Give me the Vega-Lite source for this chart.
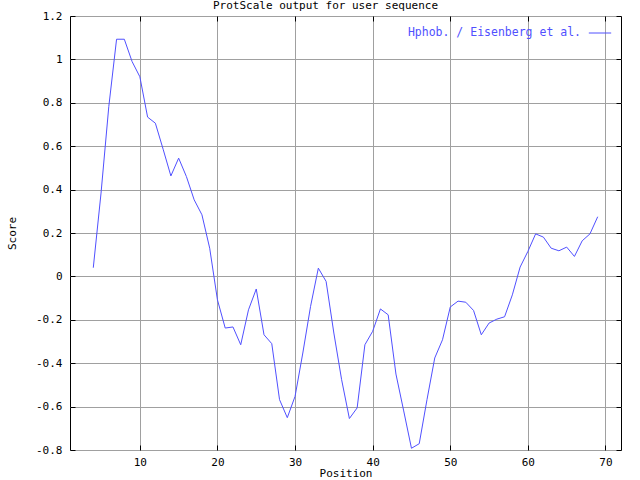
{
  "$schema": "https://vega.github.io/schema/vega-lite/v6.json",
  "width": 551,
  "height": 434,
  "autosize": {"type": "none"},
  "padding": {"left": 70, "top": 16, "right": 19, "bottom": 30},
  "background": "white",
  "title": {"text": "ProtScale output for user sequence", "fontSize": 11, "font": "DejaVu Sans Mono", "fontWeight": "normal", "anchor": "middle", "offset": 2, "dy": 3, "dx": -20, "color": "black"},
  "config": {
    "view": {"stroke": "black", "strokeWidth": 1},
    "axis": {"labelFont": "DejaVu Sans Mono", "labelFontSize": 11, "labelColor": "black", "titleFont": "DejaVu Sans Mono", "titleFontSize": 11, "titleFontWeight": "normal", "titleColor": "black", "gridColor": "#a0a0a0", "gridWidth": 1, "gridOpacity": 1, "domain": false, "tickColor": "black", "tickSize": -5, "tickWidth": 1}
  },
  "data": {"values": [
    {"Position": 4, "Score": 0.04, "series": "Hphob. / Eisenberg et al."},
    {"Position": 5, "Score": 0.384, "series": "Hphob. / Eisenberg et al."},
    {"Position": 6, "Score": 0.783, "series": "Hphob. / Eisenberg et al."},
    {"Position": 7, "Score": 1.093, "series": "Hphob. / Eisenberg et al."},
    {"Position": 8, "Score": 1.093, "series": "Hphob. / Eisenberg et al."},
    {"Position": 9, "Score": 0.99, "series": "Hphob. / Eisenberg et al."},
    {"Position": 10, "Score": 0.92, "series": "Hphob. / Eisenberg et al."},
    {"Position": 11, "Score": 0.734, "series": "Hphob. / Eisenberg et al."},
    {"Position": 12, "Score": 0.706, "series": "Hphob. / Eisenberg et al."},
    {"Position": 13, "Score": 0.586, "series": "Hphob. / Eisenberg et al."},
    {"Position": 14, "Score": 0.463, "series": "Hphob. / Eisenberg et al."},
    {"Position": 15, "Score": 0.545, "series": "Hphob. / Eisenberg et al."},
    {"Position": 16, "Score": 0.46, "series": "Hphob. / Eisenberg et al."},
    {"Position": 17, "Score": 0.353, "series": "Hphob. / Eisenberg et al."},
    {"Position": 18, "Score": 0.284, "series": "Hphob. / Eisenberg et al."},
    {"Position": 19, "Score": 0.13, "series": "Hphob. / Eisenberg et al."},
    {"Position": 20, "Score": -0.108, "series": "Hphob. / Eisenberg et al."},
    {"Position": 21, "Score": -0.238, "series": "Hphob. / Eisenberg et al."},
    {"Position": 22, "Score": -0.233, "series": "Hphob. / Eisenberg et al."},
    {"Position": 23, "Score": -0.315, "series": "Hphob. / Eisenberg et al."},
    {"Position": 24, "Score": -0.154, "series": "Hphob. / Eisenberg et al."},
    {"Position": 25, "Score": -0.058, "series": "Hphob. / Eisenberg et al."},
    {"Position": 26, "Score": -0.269, "series": "Hphob. / Eisenberg et al."},
    {"Position": 27, "Score": -0.31, "series": "Hphob. / Eisenberg et al."},
    {"Position": 28, "Score": -0.568, "series": "Hphob. / Eisenberg et al."},
    {"Position": 29, "Score": -0.651, "series": "Hphob. / Eisenberg et al."},
    {"Position": 30, "Score": -0.553, "series": "Hphob. / Eisenberg et al."},
    {"Position": 31, "Score": -0.353, "series": "Hphob. / Eisenberg et al."},
    {"Position": 32, "Score": -0.138, "series": "Hphob. / Eisenberg et al."},
    {"Position": 33, "Score": 0.038, "series": "Hphob. / Eisenberg et al."},
    {"Position": 34, "Score": -0.023, "series": "Hphob. / Eisenberg et al."},
    {"Position": 35, "Score": -0.261, "series": "Hphob. / Eisenberg et al."},
    {"Position": 36, "Score": -0.476, "series": "Hphob. / Eisenberg et al."},
    {"Position": 37, "Score": -0.655, "series": "Hphob. / Eisenberg et al."},
    {"Position": 38, "Score": -0.606, "series": "Hphob. / Eisenberg et al."},
    {"Position": 39, "Score": -0.315, "series": "Hphob. / Eisenberg et al."},
    {"Position": 40, "Score": -0.253, "series": "Hphob. / Eisenberg et al."},
    {"Position": 41, "Score": -0.15, "series": "Hphob. / Eisenberg et al."},
    {"Position": 42, "Score": -0.177, "series": "Hphob. / Eisenberg et al."},
    {"Position": 43, "Score": -0.45, "series": "Hphob. / Eisenberg et al."},
    {"Position": 44, "Score": -0.62, "series": "Hphob. / Eisenberg et al."},
    {"Position": 45, "Score": -0.792, "series": "Hphob. / Eisenberg et al."},
    {"Position": 46, "Score": -0.771, "series": "Hphob. / Eisenberg et al."},
    {"Position": 47, "Score": -0.568, "series": "Hphob. / Eisenberg et al."},
    {"Position": 48, "Score": -0.376, "series": "Hphob. / Eisenberg et al."},
    {"Position": 49, "Score": -0.292, "series": "Hphob. / Eisenberg et al."},
    {"Position": 50, "Score": -0.141, "series": "Hphob. / Eisenberg et al."},
    {"Position": 51, "Score": -0.114, "series": "Hphob. / Eisenberg et al."},
    {"Position": 52, "Score": -0.119, "series": "Hphob. / Eisenberg et al."},
    {"Position": 53, "Score": -0.157, "series": "Hphob. / Eisenberg et al."},
    {"Position": 54, "Score": -0.269, "series": "Hphob. / Eisenberg et al."},
    {"Position": 55, "Score": -0.215, "series": "Hphob. / Eisenberg et al."},
    {"Position": 56, "Score": -0.197, "series": "Hphob. / Eisenberg et al."},
    {"Position": 57, "Score": -0.186, "series": "Hphob. / Eisenberg et al."},
    {"Position": 58, "Score": -0.085, "series": "Hphob. / Eisenberg et al."},
    {"Position": 59, "Score": 0.043, "series": "Hphob. / Eisenberg et al."},
    {"Position": 60, "Score": 0.115, "series": "Hphob. / Eisenberg et al."},
    {"Position": 61, "Score": 0.196, "series": "Hphob. / Eisenberg et al."},
    {"Position": 62, "Score": 0.181, "series": "Hphob. / Eisenberg et al."},
    {"Position": 63, "Score": 0.13, "series": "Hphob. / Eisenberg et al."},
    {"Position": 64, "Score": 0.118, "series": "Hphob. / Eisenberg et al."},
    {"Position": 65, "Score": 0.135, "series": "Hphob. / Eisenberg et al."},
    {"Position": 66, "Score": 0.092, "series": "Hphob. / Eisenberg et al."},
    {"Position": 67, "Score": 0.164, "series": "Hphob. / Eisenberg et al."},
    {"Position": 68, "Score": 0.196, "series": "Hphob. / Eisenberg et al."},
    {"Position": 69, "Score": 0.275, "series": "Hphob. / Eisenberg et al."}
  ]},
  "layer": [
    {
      "mark": {"type": "line", "strokeWidth": 1},
      "encoding": {
        "x": {"field": "Position", "type": "quantitative", "scale": {"domain": [1, 72], "nice": false, "zero": false},
          "axis": {"orient": "bottom", "values": [10, 20, 30, 40, 50, 60, 70], "title": "Position", "labelPadding": 11, "titlePadding": 0, "labelFlush": false}},
        "y": {"field": "Score", "type": "quantitative", "scale": {"domain": [-0.8, 1.2], "nice": false, "zero": false},
          "axis": {"orient": "left", "values": [-0.8, -0.6, -0.4, -0.2, 0, 0.2, 0.4, 0.6, 0.8, 1, 1.2], "title": "Score", "labelPadding": 13, "titlePadding": 18, "labelFlush": false, "labelExpr": "toString(round(datum.value*10)/10)"}},
        "color": {"field": "series", "type": "nominal", "title": null, "scale": {"range": ["#5050ff"]},
          "legend": {"orient": "none", "legendX": 518, "legendY": 5, "symbolType": "stroke", "symbolStrokeWidth": 1, "symbolSize": 500, "labelFont": "DejaVu Sans Mono", "labelFontSize": 11.5, "labelColor": "#5050ff", "labelAlign": "right", "labelOffset": -31, "labelLimit": 400, "padding": 0}}
      }
    },
    {
      "mark": {"type": "line", "strokeWidth": 1, "opacity": 0},
      "encoding": {
        "x": {"field": "Position", "type": "quantitative", "scale": {"domain": [1, 72], "nice": false, "zero": false},
          "axis": {"orient": "top", "values": [10, 20, 30, 40, 50, 60, 70], "title": null, "labels": false, "grid": false}},
        "y": {"field": "Score", "type": "quantitative", "scale": {"domain": [-0.8, 1.2], "nice": false, "zero": false},
          "axis": {"orient": "right", "values": [-0.8, -0.6, -0.4, -0.2, 0, 0.2, 0.4, 0.6, 0.8, 1, 1.2], "title": null, "labels": false, "grid": false}}
      }
    }
  ],
  "resolve": {"axis": {"x": "independent", "y": "independent"}}
}
